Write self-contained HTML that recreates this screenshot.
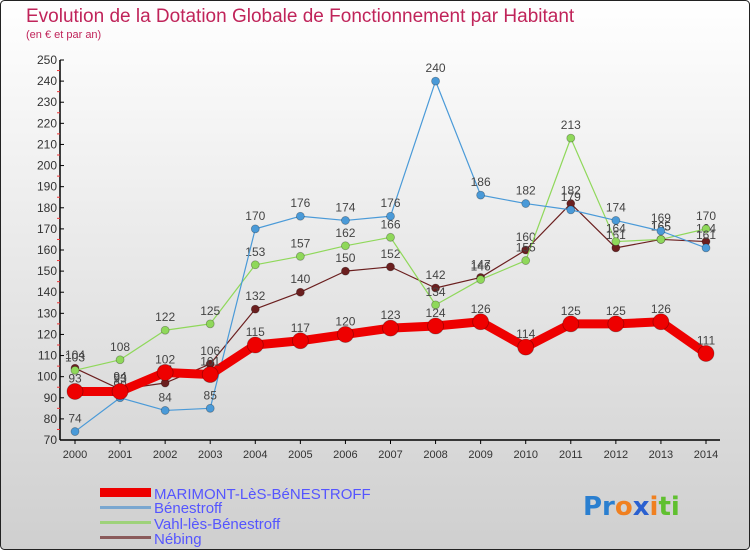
<!DOCTYPE html>
<html><head><meta charset="utf-8">
<style>
body{margin:0;width:750px;height:550px;overflow:hidden;font-family:"Liberation Sans",sans-serif}
svg{display:block}
</style></head>
<body>
<svg id="chart" width="750" height="550" xmlns="http://www.w3.org/2000/svg">
<defs>
<linearGradient id="bg" x1="0" y1="0" x2="0" y2="1">
<stop offset="0" stop-color="#ffffff"/><stop offset="1" stop-color="#cfcfcf"/>
</linearGradient>
</defs>
<rect x="0.5" y="0.5" width="749" height="549" rx="4" fill="url(#bg)" stroke="#222" stroke-width="1"/>
<text x="26" y="22" font-size="19" fill="#c0245a">Evolution de la Dotation Globale de Fonctionnement par Habitant</text>
<text x="26" y="38" font-size="11" fill="#c0245a">(en € et par an)</text>
<g id="axes"></g>
<g id="series"></g>
<g id="legend">
<rect x="100" y="488" width="51" height="9" fill="#e00"/>
<text x="154" y="499" font-size="15" fill="#55f">MARIMONT-LèS-BéNESTROFF</text>
<rect x="100" y="506" width="51" height="3" fill="#7aa7d0"/>
<text x="154" y="513" font-size="15" fill="#55f">Bénestroff</text>
<rect x="100" y="521" width="51" height="3" fill="#9ed27a"/>
<text x="154" y="529" font-size="15" fill="#55f">Vahl-lès-Bénestroff</text>
<rect x="100" y="536" width="51" height="3" fill="#8a5a5a"/>
<text x="154" y="544" font-size="15" fill="#55f">Nébing</text>
</g>
<text x="583" y="515" font-size="26" font-weight="bold" font-family="'DejaVu Sans',sans-serif"><tspan fill="#2a7fd0">Pr</tspan><tspan fill="#f08020">o</tspan><tspan fill="#2a60d0">x</tspan><tspan fill="#f08020">i</tspan><tspan fill="#60c030">ti</tspan></text>
</svg>
<script>
const years=[2000,2001,2002,2003,2004,2005,2006,2007,2008,2009,2010,2011,2012,2013,2014];
const yTicks=[70,80,90,100,110,120,130,140,150,160,170,180,190,200,210,220,230,240,250];
const marimont=[93,93,102,101,115,117,120,123,124,126,114,125,125,126,111];
const benestroff=[74,90,84,85,170,176,174,176,240,186,182,179,174,169,161];
const vahl=[103,108,122,125,153,157,162,166,134,146,155,213,164,165,170];
const nebing=[104,94,97,106,132,140,150,152,142,147,160,182,161,165,164];
const NS='http://www.w3.org/2000/svg';
const x=i=>75+i*(706-75)/(years.length-1);
const y=v=>440-(v-70)*(380/180);
function mk(t,a,p){const e=document.createElementNS(NS,t);for(const k in a)e.setAttribute(k,a[k]);p.appendChild(e);return e;}
const ax=document.getElementById('axes');
const yl=mk('line',{x1:60,y1:y(250),x2:60,y2:y(70),stroke:'#000','stroke-width':1.5},ax);


const xl=mk('line',{x1:60,y1:440,x2:720,y2:440,stroke:'#000','stroke-width':1.5},ax);


yTicks.forEach(v=>{
 mk('line',{x1:60,y1:y(v),x2:64,y2:y(v),stroke:'#000'},ax);
 if(v<250) mk('line',{x1:57,y1:y(v+5),x2:60,y2:y(v+5),stroke:'#e33'},ax);
 const t=mk('text',{x:57,y:y(v)+4,'font-size':12,'text-anchor':'end',fill:'#333'},ax);
 t.textContent=v;
 
 
});
years.forEach((yr,i)=>{
 mk('line',{x1:x(i),y1:440,x2:x(i),y2:444,stroke:'#000'},ax);
 const t=mk('text',{x:x(i),y:458,'font-size':11,'text-anchor':'middle',fill:'#333'},ax);
 t.textContent=yr;
 
 
});
const sg=document.getElementById('series');
function series(vals,color,w,r,name){
 const g=mk('g',{},sg);
 
 
 mk('polyline',{points:vals.map((v,i)=>x(i)+','+y(v)).join(' '),fill:'none',stroke:color,'stroke-width':w,'stroke-linejoin':'round'},g);
 vals.forEach((v,i)=>{
  const c=mk('circle',{cx:x(i),cy:y(v),r:r,fill:color,stroke:'rgba(0,0,0,0.3)','stroke-width':0.8},g);
  
  
  const t=mk('text',{x:x(i),y:y(v)-9,'font-size':12,'text-anchor':'middle',fill:'#444'},g);
  t.textContent=v;
  
  
 });
}
series(nebing,'#6b1f1f',1.2,4,'series-nebing');
series(vahl,'#8fd85a',1.2,4,'series-vahl');
series(benestroff,'#4a9ad8',1.2,4,'series-benestroff');
series(marimont,'#ee0000',9,8,'series-marimont');
</script>
</body></html>
